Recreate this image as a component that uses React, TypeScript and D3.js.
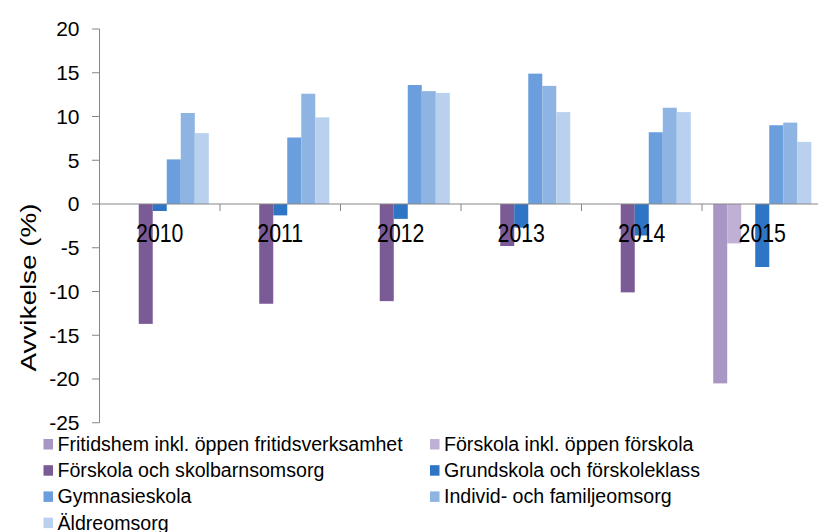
import React from "react";
import * as d3 from "d3";

const years = ["2010", "2011", "2012", "2013", "2014", "2015"];

const seriesNames = [
  "Fritidshem inkl. öppen fritidsverksamhet",
  "Förskola inkl. öppen förskola",
  "Förskola och skolbarnsomsorg",
  "Grundskola och förskoleklass",
  "Gymnasieskola",
  "Individ- och familjeomsorg",
  "Äldreomsorg",
];

const colors = ["#a896c4", "#bfb1d6", "#7a5b96", "#2e75c6", "#6a9edc", "#8db4e2", "#b9d0ef"];

// one value per year, null where there is no bar
const fritidshem = [null, null, null, null, null, -20.5];
const forskolaInkl = [null, null, null, null, null, -4.5];
const forskolaSkolbarn = [-13.7, -11.4, -11.1, -4.8, -10.1, null];
const grundskola = [-0.8, -1.3, -1.7, -2.7, -3.6, -7.2];
const gymnasieskola = [5.1, 7.6, 13.6, 14.9, 8.2, 9.0];
const individFamilj = [10.4, 12.6, 12.9, 13.5, 11.0, 9.3];
const aldreomsorg = [8.1, 9.9, 12.7, 10.5, 10.5, 7.1];

const seriesValues = [fritidshem, forskolaInkl, forskolaSkolbarn, grundskola, gymnasieskola, individFamilj, aldreomsorg];

const yTicks = [20, 15, 10, 5, 0, -5, -10, -15, -20, -25];

const font = "'Liberation Sans', Arial, sans-serif";

export default function App() {
  const width = 818;
  const height = 532;
  const x0 = d3.scaleBand<string>().domain(years).range([99.5, 822.5]).padding(0);
  const x1 = d3
    .scaleBand<number>()
    .domain(d3.range(seriesNames.length))
    .range([0, x0.bandwidth()])
    .paddingInner(0)
    .paddingOuter(0.8);
  const y = d3.scaleLinear().domain([-25, 20]).range([422.75, 29]);
  const axisColor = "#868686";

  const legendRows = [0, 1, 2, 3].map((r) => [r * 2, r * 2 + 1].filter((i) => i < seriesNames.length));

  return (
    <svg
      width={width}
      height={height}
      style={{ position: "absolute", left: 0, top: 0, background: "#fff" }}
      fontFamily={font}
    >
      {/* bars */}
      {seriesValues.map((vals, si) =>
        vals.map((v, yi) =>
          v == null ? null : (
            <rect
              key={`${si}-${yi}`}
              x={(x0(years[yi]) as number) + (x1(si) as number)}
              y={y(Math.max(0, v))}
              width={x1.bandwidth()}
              height={Math.abs(y(v) - y(0))}
              fill={colors[si]}
            />
          )
        )
      )}

      {/* y axis */}
      <line x1={99.5} x2={99.5} y1={y(20)} y2={y(-25)} stroke={axisColor} strokeWidth={1} />
      {yTicks.map((t) => (
        <g key={t}>
          <line x1={92} x2={99.5} y1={y(t)} y2={y(t)} stroke={axisColor} strokeWidth={1} />
          <text x={79.5} y={y(t) + 7.3} textAnchor="end" fontSize={21} fill="#000">
            {t}
          </text>
        </g>
      ))}

      {/* x axis at zero */}
      <line x1={99.5} x2={822.5} y1={y(0)} y2={y(0)} stroke={axisColor} strokeWidth={1} />
      {years.map((yr) => (
        <line
          key={yr}
          x1={(x0(yr) as number) + x0.bandwidth()}
          x2={(x0(yr) as number) + x0.bandwidth()}
          y1={y(0)}
          y2={y(0) + 7}
          stroke={axisColor}
          strokeWidth={1}
        />
      ))}
      {years.map((yr) => (
        <text
          key={yr}
          transform={`translate(${(x0(yr) as number) + x0.bandwidth() / 2},241.5) scale(1,1.18)`}
          textAnchor="middle"
          fontSize={21.3}
          fill="#000"
        >
          {yr}
        </text>
      ))}

      {/* y axis title */}
      <text
        transform="translate(36,287.5) rotate(-90)"
        textAnchor="middle"
        fontSize={22}
        textLength={168}
        lengthAdjust="spacingAndGlyphs"
        fill="#000"
      >
        Avvikelse (%)
      </text>

      {/* legend */}
      {legendRows.map((row, ri) =>
        row.map((si, ci) => {
          const lx = ci === 0 ? 43.5 : 430;
          const base = 451 + ri * 26.2;
          return (
            <g key={si}>
              <rect x={lx} y={base - 12} width={9.5} height={10.5} fill={colors[si]} />
              <text x={lx + 14} y={base} fontSize={19.6} fill="#000">
                {seriesNames[si]}
              </text>
            </g>
          );
        })
      )}
    </svg>
  );
}
